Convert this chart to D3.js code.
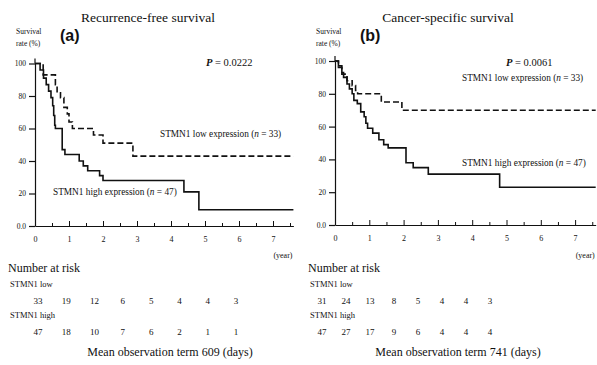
<!DOCTYPE html>
<html>
<head>
<meta charset="utf-8">
<script src="https://cdn.jsdelivr.net/npm/d3@7"></script>
<style>
  body { margin: 0; background: #fff; }
  svg { display: block; font-family: "Liberation Serif", "DejaVu Serif", serif; }
</style>
</head>
<body>
<svg id="chart" width="597" height="365"></svg>
<script>
// survival steps: [year, survival %]
const highRfs = [[0,100],[0.15,96],[0.25,91],[0.33,87],[0.4,83],[0.47,79],[0.52,74],[0.55,68],[0.58,62],[0.6,60],[0.8,47],[0.88,44],[1.3,40],[1.42,37],[1.55,34],[1.9,31],[2.0,28],[4.38,21],[4.82,10]];
const lowRfs = [[0,100],[0.24,93],[0.6,87],[0.65,82],[0.75,79],[0.85,73],[0.95,69],[1.0,64],[1.1,60],[1.72,56],[2.0,51],[2.88,43]];
const highCss = [[0,100],[0.1,97],[0.2,93],[0.25,90],[0.35,86],[0.42,83],[0.5,80],[0.55,76],[0.65,74],[0.75,69],[0.85,66],[0.9,62],[0.95,59],[1.1,56],[1.28,52],[1.42,49],[1.55,47],[2.07,38],[2.28,35],[2.72,31],[4.8,23]];
const lowCss = [[0,100],[0.1,96],[0.2,92],[0.35,88],[0.5,85],[0.6,82],[0.66,80],[1.35,75],[1.95,70]];
const lastYear = 7.6;

const yTicks = [0, 20, 40, 60, 80, 100];
const xTicks = [0, 1, 2, 3, 4, 5, 6, 7];

const riskLowRfs = [33, 19, 12, 6, 5, 4, 4, 3];
const riskHighRfs = [47, 18, 10, 7, 6, 2, 1, 1];
const riskLowCss = [31, 24, 13, 8, 5, 4, 4, 3];
const riskHighCss = [47, 27, 17, 9, 6, 4, 4, 4];

const panels = [
  { title: "Recurrence-free survival", tag: "(a)", p: "0.0222", ox: 0, x0: 35, yr: 34, y0: 226, y100: 63.5,
    high: highRfs, low: lowRfs, riskLow: riskLowRfs, riskHigh: riskHighRfs, riskRange: [38, 236],
    lowLab: [160, 137], highLab: [53, 195], term: "Mean observation term 609 (days)", termX: 170 },
  { title: "Cancer-specific survival", tag: "(b)", p: "0.0061", ox: 300, x0: 335, yr: 34.3, y0: 225, y100: 61,
    high: highCss, low: lowCss, riskLow: riskLowCss, riskHigh: riskHighCss, riskRange: [322, 490],
    lowLab: [462, 81], highLab: [462, 166], term: "Mean observation term 741 (days)", termX: 458 }
];

const svg = d3.select("#chart");
const ink = "#111";

panels.forEach(pn => {
  const g = svg.append("g");
  const x = d3.scaleLinear().domain([0, lastYear]).range([pn.x0, pn.x0 + lastYear * pn.yr]);
  const y = d3.scaleLinear().domain([0, 100]).range([pn.y0, pn.y100]);

  // title + labels
  g.append("text").attr("x", pn.ox + 148).attr("y", 22).attr("text-anchor", "middle")
    .attr("font-size", 13.5).attr("fill", ink).text(pn.title);
  g.append("text").attr("x", pn.ox + 16).attr("y", 34).attr("font-size", 7.5).attr("fill", ink).text("Survival");
  g.append("text").attr("x", pn.ox + 16).attr("y", 46).attr("font-size", 7.5).attr("fill", ink).text("rate (%)");
  g.append("text").attr("x", pn.ox + 60).attr("y", 41).attr("font-size", 16).attr("font-weight", "bold")
    .attr("font-family", "Liberation Sans, Arial, sans-serif").attr("fill", ink).text(pn.tag);

  const pt = g.append("text").attr("x", pn.ox + 206).attr("y", 66).attr("font-size", 10.5).attr("fill", ink);
  pt.append("tspan").attr("font-style", "italic").attr("font-weight", "bold").text("P");
  pt.append("tspan").text(" = " + pn.p);

  // y axis
  const ya = g.append("g").attr("transform", `translate(${pn.x0},0)`)
    .call(d3.axisLeft(y).tickValues(yTicks).tickFormat(d => d === 0 ? "0.0" : d)
      .tickSize(6).tickSizeOuter(0).tickPadding(3));
  ya.selectAll("text").attr("font-size", 7.5).attr("font-family", "Liberation Serif, serif").attr("fill", ink);
  ya.selectAll("line, path").attr("stroke", ink).attr("stroke-width", 1.2);
  g.append("line").attr("x1", pn.x0).attr("x2", pn.x0).attr("y1", y(100)).attr("y2", y(100) - 5)
    .attr("stroke", ink).attr("stroke-width", 1.2);

  // x axis
  const xa = g.append("g").attr("transform", `translate(0,${pn.y0})`)
    .call(d3.axisBottom(x).tickValues(xTicks).tickSizeInner(-5).tickSizeOuter(0).tickPadding(10));
  xa.selectAll("text").attr("font-size", 8).attr("font-family", "Liberation Serif, serif").attr("fill", ink);
  xa.selectAll("line, path").attr("stroke", ink).attr("stroke-width", 1);
  const halves = d3.range(0.5, lastYear, 1);
  g.append("g").attr("transform", `translate(0,${pn.y0})`)
    .call(d3.axisBottom(x).tickValues(halves).tickSizeInner(-3).tickSizeOuter(0).tickFormat(""))
    .call(s => s.select(".domain").remove())
    .selectAll("line").attr("stroke", ink);
  g.append("text").attr("x", x(lastYear) - 20).attr("y", 258).attr("font-size", 8).attr("fill", ink).text("(year)");

  // curves
  const line = d3.line().x(d => x(d[0])).y(d => y(d[1])).curve(d3.curveStepAfter);
  const ext = s => s.concat([[lastYear, s[s.length - 1][1]]]);
  g.append("path").datum(ext(pn.high)).attr("d", line).attr("fill", "none")
    .attr("stroke", ink).attr("stroke-width", 1.6);
  g.append("path").datum(ext(pn.low)).attr("d", line).attr("fill", "none")
    .attr("stroke", ink).attr("stroke-width", 1.6).attr("stroke-dasharray", "6,3");

  const lab = (pos, txt, n) => {
    const t = g.append("text").attr("x", pos[0]).attr("y", pos[1]).attr("font-size", 9.3).attr("fill", ink);
    t.append("tspan").text(txt + " (");
    t.append("tspan").attr("font-style", "italic").text("n");
    t.append("tspan").text(" = " + n + ")");
  };
  lab(pn.lowLab, "STMN1 low expression", 33);
  lab(pn.highLab, "STMN1 high expression", 47);

  // number at risk
  g.append("text").attr("x", pn.ox + 8).attr("y", 272).attr("font-size", 12).attr("fill", ink).text("Number at risk");
  g.append("text").attr("x", pn.ox + 10).attr("y", 287).attr("font-size", 8.5).attr("fill", ink).text("STMN1 low");
  g.append("text").attr("x", pn.ox + 10).attr("y", 318).attr("font-size", 8.5).attr("fill", ink).text("STMN1 high");
  const rx = d3.scalePoint().domain(d3.range(8)).range(pn.riskRange);
  g.selectAll(".rl").data(pn.riskLow).enter().append("text")
    .attr("x", (d, i) => rx(i)).attr("y", 304).attr("text-anchor", "middle")
    .attr("font-size", 9).attr("fill", ink).text(d => d);
  g.selectAll(".rh").data(pn.riskHigh).enter().append("text")
    .attr("x", (d, i) => rx(i)).attr("y", 335).attr("text-anchor", "middle")
    .attr("font-size", 9).attr("fill", ink).text(d => d);

  g.append("text").attr("x", pn.termX).attr("y", 356).attr("text-anchor", "middle")
    .attr("font-size", 12).attr("fill", ink).text(pn.term);
});
</script>
</body>
</html>
